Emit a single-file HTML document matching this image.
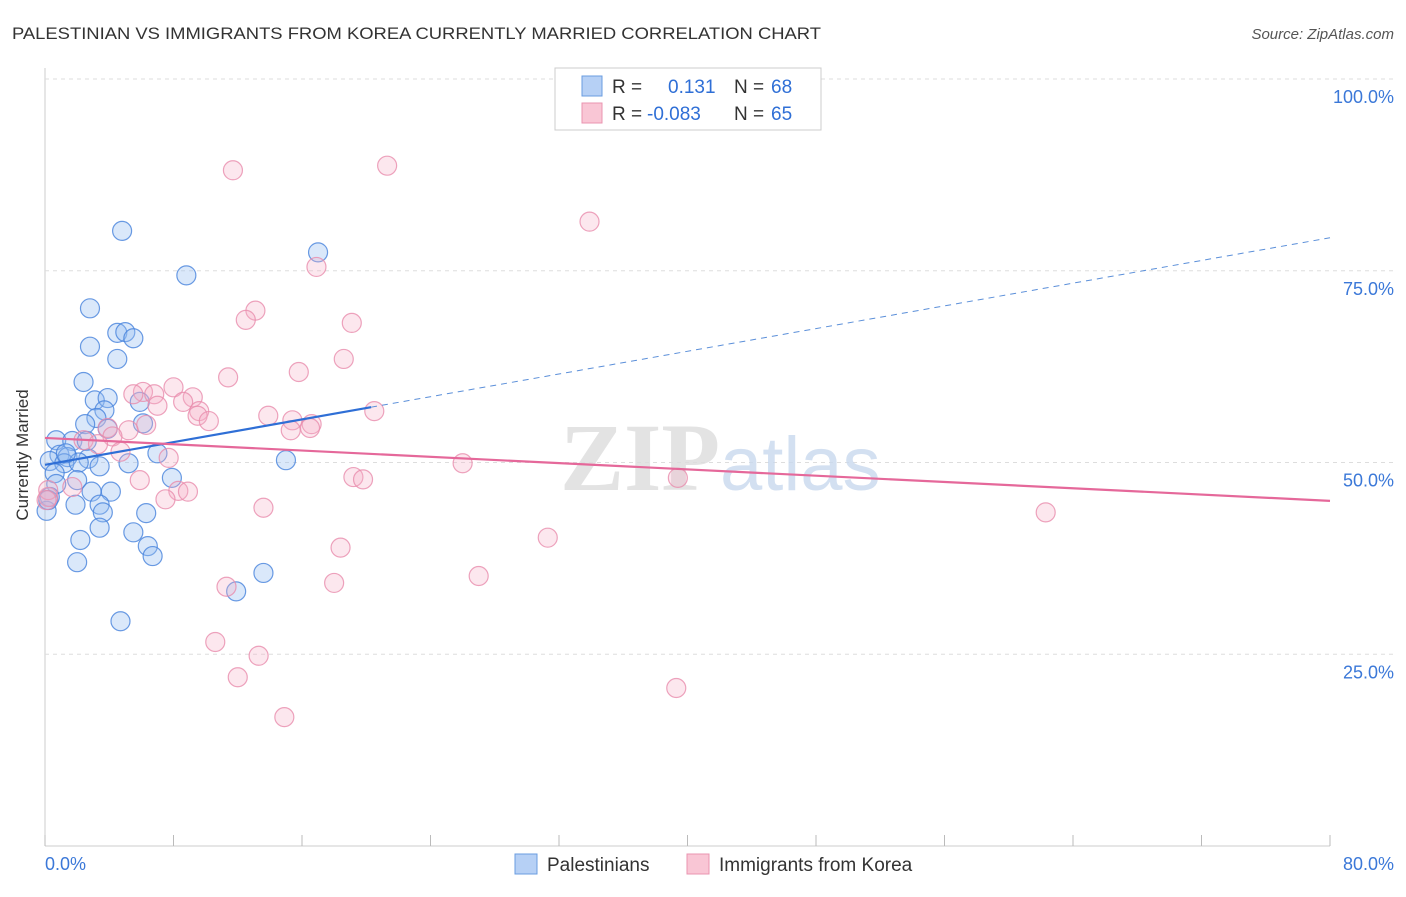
<!DOCTYPE html>
<html><head><meta charset="utf-8"><style>
body{margin:0;background:#fff;font-family:"Liberation Sans",sans-serif}
</style></head><body>
<svg width="1406" height="892" viewBox="0 0 1406 892">
<text x="12" y="39" font-size="17" fill="#333" textLength="809" lengthAdjust="spacingAndGlyphs">PALESTINIAN VS IMMIGRANTS FROM KOREA CURRENTLY MARRIED CORRELATION CHART</text>
<text x="1394" y="39" font-size="15" fill="#555" font-style="italic" text-anchor="end">Source: ZipAtlas.com</text>
<g id="grid"></g>
<text x="720" y="490" font-size="96" font-weight="bold" fill="#ddd" text-anchor="end" font-family="Liberation Serif,serif" opacity="0.8">ZIP</text>
<text x="720" y="490" font-size="76" fill="#c9d9ee" opacity="0.8">atlas</text>
<g id="pts"></g>
<g id="lines"></g>
<text x="28" y="455" font-size="17" fill="#333" text-anchor="middle" transform="rotate(-90 28 455)">Currently Married</text>
<g>
<rect x="555" y="68" width="266" height="62" fill="#fff" stroke="#ccc"/>
<rect x="582" y="76" width="20" height="20" fill="#b6d0f5" stroke="#6a9ce0"/>
<rect x="582" y="103" width="20" height="20" fill="#f9c6d5" stroke="#ea94b0"/>
<text x="612" y="93" font-size="19" fill="#333">R = </text><text x="668" y="93" font-size="19" fill="#2f6fd6">0.131</text>
<text x="734" y="93" font-size="19" fill="#333">N = </text><text x="771" y="93" font-size="19" fill="#2f6fd6">68</text>
<text x="612" y="120" font-size="19" fill="#333">R = </text><text x="647" y="120" font-size="19" fill="#2f6fd6">-0.083</text>
<text x="734" y="120" font-size="19" fill="#333">N = </text><text x="771" y="120" font-size="19" fill="#2f6fd6">65</text>
</g>
<g>
<rect x="515" y="854" width="22" height="20" fill="#b6d0f5" stroke="#6a9ce0"/>
<text x="547" y="871" font-size="19" fill="#333">Palestinians</text>
<rect x="687" y="854" width="22" height="20" fill="#f9c6d5" stroke="#ea94b0"/>
<text x="719" y="871" font-size="19" fill="#333">Immigrants from Korea</text>
</g>
<text x="45" y="870" font-size="18" fill="#3b78d8">0.0%</text>
<text x="1394" y="870" font-size="18" fill="#3b78d8" text-anchor="end">80.0%</text>
</svg>
<script>
const yTicks=[100,75,50,25];
const yTickLabels=["100.0%","75.0%","50.0%","25.0%"];
const xTicks=[0,8,16,24,32,40,48,56,64,72,80];
const blueX=[4.8,8.8,17.0,2.8,4.5,5.0,5.5,2.8,4.5,2.4,3.1,3.9,5.9,3.7,3.2,2.5,6.1,3.9,0.7,1.7,2.6,7.0,0.9,1.4,2.7,0.3,1.2,2.1,3.4,5.2,15.0,0.6,7.9,2.0,0.7,2.9,4.1,0.3,1.9,3.4,3.6,6.3,0.1,3.4,5.5,2.2,6.4,6.7,2.0,13.6,11.9,4.7,0.2,1.3];
const blueY=[80.2,74.4,77.4,70.1,66.9,67.0,66.2,65.1,63.5,60.5,58.1,58.4,57.9,56.8,55.8,55.0,55.1,54.4,52.9,52.8,52.8,51.2,51.0,50.7,50.5,50.2,49.9,50.0,49.5,49.9,50.3,48.6,48.0,47.7,47.2,46.2,46.2,45.5,44.5,44.5,43.5,43.4,43.7,41.5,40.9,39.9,39.1,37.8,37.0,35.6,33.2,29.3,45.1,51.2];
const pinkX=[11.7,21.3,33.9,16.9,13.1,12.5,19.1,18.6,15.8,11.4,8.0,6.1,5.5,6.8,9.2,8.6,7.0,9.6,20.5,9.5,10.2,13.9,15.4,16.6,15.3,16.5,6.3,3.9,5.2,4.2,2.4,3.3,4.7,7.7,26.0,19.2,19.8,5.9,39.4,8.3,8.9,1.7,7.5,0.2,13.6,62.3,31.3,18.4,27.0,18.0,11.3,10.6,13.3,12.0,39.3,14.9,0.2,0.1];
const pinkY=[88.1,88.7,81.4,75.5,69.8,68.6,68.2,63.5,61.8,61.1,59.8,59.2,58.9,58.9,58.5,57.9,57.4,56.7,56.7,56.1,55.4,56.1,55.5,55.0,54.2,54.5,54.9,54.5,54.2,53.4,52.9,52.4,51.4,50.6,49.9,48.1,47.8,47.7,48.0,46.3,46.2,46.8,45.2,45.5,44.1,43.5,40.2,38.9,35.2,34.3,33.8,26.6,24.8,22.0,20.6,16.8,46.4,45.1];
const blueTrend=[49.7,0.37];
const pinkTrend=[53.2,-0.1025];
const X0=45,X1=1330,Y0=846,Y100=79;
const sx=v=>X0+(X1-X0)*v/80, sy=v=>Y0-(Y0-Y100)*v/100;
const NS="http://www.w3.org/2000/svg";
function mk(t,a,p){const e=document.createElementNS(NS,t);for(const k in a)e.setAttribute(k,a[k]);p.appendChild(e);return e;}
const grid=document.getElementById('grid');
mk('line',{x1:X0,y1:68,x2:X0,y2:Y0,stroke:'#ccc'},grid);
mk('line',{x1:X0,y1:Y0,x2:X1,y2:Y0,stroke:'#ccc'},grid);
yTicks.forEach((t,i)=>{
 const l=mk('line',{x1:X0,y1:sy(t),x2:1394,y2:sy(t),stroke:'#ddd','stroke-dasharray':'4 4'},grid);
 
 
 const tx=mk('text',{x:1394,y:sy(t)+24,'font-size':18,fill:'#3b78d8','text-anchor':'end'},grid);
 tx.textContent=yTickLabels[i];
 
 
});
xTicks.forEach(t=>{
 const l=mk('line',{x1:sx(t),y1:835,x2:sx(t),y2:Y0,stroke:'#bbb'},grid);
 
 
});
const pts=document.getElementById('pts');
blueX.forEach((v,i)=>{
 const c=mk('circle',{cx:sx(v),cy:sy(blueY[i]),r:9.5,fill:'rgba(150,190,240,0.35)',stroke:'rgba(70,130,220,0.8)','stroke-width':1.2},pts);
 
 
});
pinkX.forEach((v,i)=>{
 const c=mk('circle',{cx:sx(v),cy:sy(pinkY[i]),r:9.5,fill:'rgba(245,175,200,0.3)',stroke:'rgba(232,140,172,0.8)','stroke-width':1.2},pts);
 
 
});
const ln=document.getElementById('lines');
const bf=x=>blueTrend[0]+blueTrend[1]*x, pf=x=>pinkTrend[0]+pinkTrend[1]*x;
let a=mk('line',{x1:sx(0),y1:sy(bf(0)),x2:sx(20.3),y2:sy(bf(20.3)),stroke:'#2f6fd6','stroke-width':2.2},ln);


a=mk('line',{x1:sx(20.3),y1:sy(bf(20.3)),x2:sx(80),y2:sy(bf(80)),stroke:'#5b8fd9','stroke-width':1,'stroke-dasharray':'6 5'},ln);


a=mk('line',{x1:sx(0),y1:sy(pf(0)),x2:sx(80),y2:sy(pf(80)),stroke:'#e5689a','stroke-width':2.2},ln);


</script>
</body></html>
